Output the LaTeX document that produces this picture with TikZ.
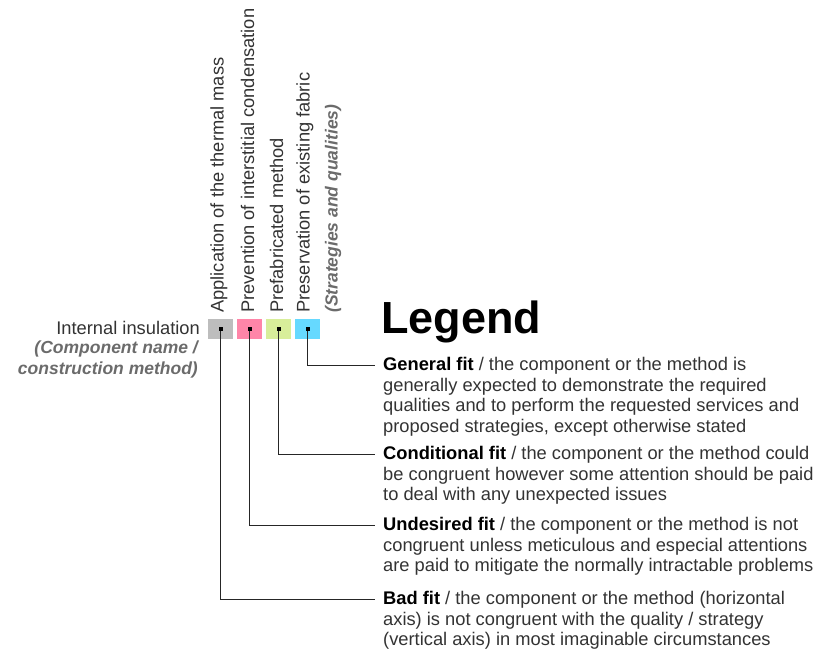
\documentclass[tikz,border=0pt]{standalone}
\usepackage{fontspec}
\setmainfont{Liberation Sans}
\usetikzlibrary{positioning,calc}
\definecolor{fitGrey}{HTML}{BDBDBD}
\definecolor{fitPink}{HTML}{FF85A8}
\definecolor{fitGreen}{HTML}{D8EE9A}
\definecolor{fitBlue}{HTML}{66D9FF}
\definecolor{legText}{HTML}{333333}
\definecolor{noteGrey}{HTML}{6B6B6B}
\newcommand{\bodyfont}{\fontsize{18.3}{20.7}\selectfont}
\newcommand{\notefont}{\fontsize{17.5}{20.7}\selectfont}
\tikzset{
  cellbox/.style={minimum width=25pt, minimum height=20pt, inner sep=0pt},
  pinbox/.style={fill=black, minimum size=4pt, inner sep=0pt},
  vlbl/.style={rotate=90, anchor=west, inner sep=0pt, font=\bodyfont, text=legText},
  note/.style={inner sep=0pt, font=\notefont\bfseries\itshape, text=noteGrey},
  entry/.style={anchor=north west, align=left, inner sep=0pt, font=\bodyfont, text=legText},
  lead/.style={draw=black!85, line width=1.2pt},
}
\begin{document}
\begin{tikzpicture}[x=1pt,y=1pt]
  \useasboundingbox (0,0) rectangle (833,-652);
  % qualities (columns)
  \foreach \n/\x/\c in {mass/220.5/fitGrey,cond/249.5/fitPink,prefab/278.5/fitGreen,fabric/307.5/fitBlue}{
    \node[cellbox,fill=\c] (\n) at (\x,-329) {};
    \node[pinbox] (\n-pin) at (\n) {};
  }
  \node[vlbl] (massl) at (219,-313) {Application of the thermal mass};
  \node[vlbl] (condl) at (247.5,-313) {Prevention of interstitial condensation};
  \node[vlbl] (prefabl) at (276.5,-313) {Prefabricated method};
  \node[vlbl] (fabricl) at (305,-313) {Preservation of existing fabric};
  \node[note,rotate=90,anchor=west] (strat) at (333,-313) {(Strategies and qualities)};
  % component
  \node[inner sep=0pt,font=\bodyfont,text=legText,anchor=east] (comp) at (200,-328) {Internal insulation};
  \node[note,align=right,anchor=north east] (compnote) at (198,-341)
        {(Component name /\\construction method)};
  % legend
  \node[inner sep=0pt,anchor=base west,font=\fontsize{45}{50}\bfseries,text=black] (legend) at (381,-334) {Legend};
  \node[entry] (gen) at (383,-357) {\textbf{\color{black}General fit} / the component or the method is\\
    generally expected to demonstrate the required\\
    qualities and to perform the requested services and\\
    proposed strategies, except otherwise stated};
  \node[entry] (condfit) at (383,-446) {\textbf{\color{black}Conditional fit} / the component or the method could\\
    be congruent however some attention should be paid\\
    to deal with any unexpected issues};
  \node[entry] (undes) at (383,-517) {\textbf{\color{black}Undesired fit} / the component or the method is not\\
    congruent unless meticulous and especial attentions\\
    are paid to mitigate the normally intractable problems};
  \node[entry] (bad) at (383,-591) {\textbf{\color{black}Bad fit} / the component or the method (horizontal\\
    axis) is not congruent with the quality / strategy\\
    (vertical axis) in most imaginable circumstances};
  % leaders
  \draw[lead] (fabric-pin) |- ([xshift=-8pt,yshift=-8.5pt]gen.north west);
  \draw[lead] (prefab-pin) |- ([xshift=-8pt,yshift=-8.5pt]condfit.north west);
  \draw[lead] (cond-pin) |- ([xshift=-8pt,yshift=-8.5pt]undes.north west);
  \draw[lead] (mass-pin) |- ([xshift=-8pt,yshift=-8.5pt]bad.north west);
\end{tikzpicture}
\end{document}
